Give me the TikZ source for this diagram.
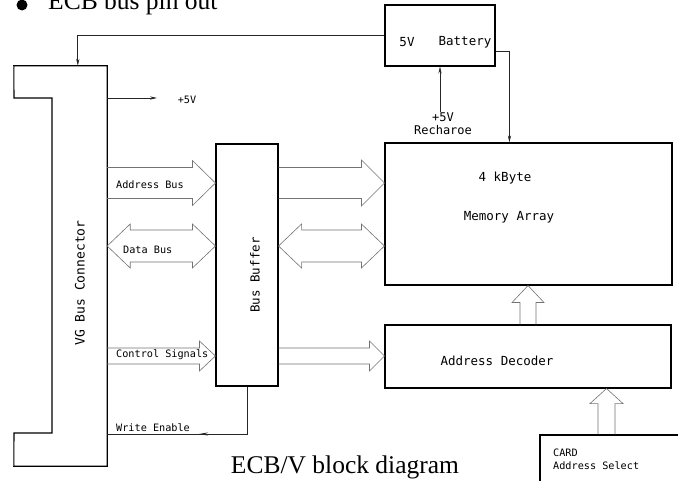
\documentclass[tikz,border=0pt]{standalone}
\usepackage{fontspec}
\setmainfont{Liberation Serif}
\newfontfamily\mono{DejaVu Sans Mono}
\usetikzlibrary{calc,arrows.meta}
\newcommand{\blkR}[5]{\draw[blk] ($(#1)+(0,-#3)$) -- ($(#2)+(-#5,-#3)$) -- ($(#2)+(-#5,-#4)$) -- (#2) -- ($(#2)+(-#5,#4)$) -- ($(#2)+(-#5,#3)$) -- ($(#1)+(0,#3)$);}
\newcommand{\blkLR}[5]{\draw[blk] (#1) -- ($(#1)+(#5,-#4)$) -- ($(#1)+(#5,-#3)$) -- ($(#2)+(-#5,-#3)$) -- ($(#2)+(-#5,-#4)$) -- (#2) -- ($(#2)+(-#5,#4)$) -- ($(#2)+(-#5,#3)$) -- ($(#1)+(#5,#3)$) -- ($(#1)+(#5,#4)$) -- cycle;}
\newcommand{\blkU}[5]{\draw[blk] ($(#1)+(-#3,0)$) -- ($(#2)+(-#3,#5)$) -- ($(#2)+(-#4,#5)$) -- (#2) -- ($(#2)+(#4,#5)$) -- ($(#2)+(#3,#5)$) -- ($(#1)+(#3,0)$);}
\begin{document}
\begin{tikzpicture}[x=1pt,y=-1pt,
  box/.style={draw=black, line width=1.1pt, inner sep=0pt},
  blk/.style={draw=black!55, line width=0.6pt},
  ln/.style={draw=black!85, line width=0.7pt},
  tip/.style={-{Stealth[length=7pt,width=3.2pt]}},
  lbl/.style={font=\mono\fontsize{10.2}{12}\selectfont, inner sep=0pt},
  big/.style={font=\mono\fontsize{12.5}{14}\selectfont, inner sep=0pt}]
\clip (0,0) rectangle (678,481);
\fill[white] (0,0) rectangle (678,481);

% heading (cut off at top)
\fill[black] (22,5) circle (5.5pt);
\node[anchor=base west, inner sep=0pt, font=\fontsize{25.5}{28}\selectfont] (head) at (48,10) {ECB bus pin out};

% nodes
\node[minimum width=93pt, minimum height=400pt, inner sep=0pt] (vg) at (60.5,266) {};
\node[box, minimum width=62pt, minimum height=242pt] (buf) at (247,265) {};
\node[box, minimum width=287pt, minimum height=142pt] (mem) at (528.5,214) {};
\node[box, minimum width=286pt, minimum height=63pt] (dec) at (528,356.5) {};
\node[box, minimum width=110pt, minimum height=61pt] (bat) at (440,35.5) {};
\node[box, minimum width=150pt, minimum height=65pt] (card) at (615,467.5) {};

% VG bus connector outline
\draw[line width=1.1pt] (vg.north west) -- (vg.north east) -- (vg.south east) -- (vg.south west) -- (14,433) -- (52,433) -- (52,98) -- (14,98) -- cycle;
\node[big, rotate=90, font=\mono\fontsize{13}{15}\selectfont] (vgl) at (80,283) {VG Bus Connector};
\node[big, rotate=90] (bufl) at (255,275) {Bus Buffer};

% texts in boxes
\node[big] (kb) at (505,178) {4 kByte};
\node[big] (ma) at (509,217) {Memory Array};
\node[big] (ad) at (497,361) {Address Decoder};
\node[big] (v5) at (407,42) {5V};
\node[big] (bt) at (465,42) {Battery};
\node[lbl, anchor=west] (c1) at (553,453) {CARD};
\node[lbl, anchor=west] (c2) at (553,466) {Address Select};

% battery connections
\coordinate (topin) at ($(vg.north west)+(64,0)$);
\draw[ln, tip] (bat.west) -| (topin);
\coordinate (bo) at ($(bat.east)+(0,15.5)$);
\coordinate (mi) at ($(mem.north west)+(125,0)$);
\draw[ln, tip] (bo) -| (mi);
\node[big, align=center, font=\mono\fontsize{12}{13}\selectfont] (rch) at (443,123.5) {+5V\\Recharoe};
\draw[ln, tip] (rch.north -| bat.south) -- (bat.south);

% +5V out of connector
\coordinate (p5a) at (107,98);
\coordinate (p5b) at (157,98);
\draw[ln, tip] (p5a) -- (p5b);
\node[lbl] (p5) at (187,100) {+5V};

% block arrows left side
\coordinate (yA) at (0,183);
\coordinate (yD) at (0,246);
\coordinate (yC) at (0,356);
\coordinate (aL) at (vg.east |- yA);
\coordinate (aB) at (buf.west |- yA);
\coordinate (aB2) at (buf.east |- yA);
\coordinate (aM) at (mem.west |- yA);
\coordinate (dL) at (vg.east |- yD);
\coordinate (dB) at (buf.west |- yD);
\coordinate (dB2) at (buf.east |- yD);
\coordinate (dM) at (mem.west |- yD);
\coordinate (cL) at (vg.east |- yC);
\coordinate (cB) at (buf.west |- yC);
\coordinate (cB2) at (buf.east |- yC);
\coordinate (cD) at (dec.west |- yC);
\blkR{aL}{aB}{15.5}{22.5}{23}
\blkR{aB2}{aM}{15.5}{23}{23}
\blkLR{dL}{dB}{16}{22}{23}
\blkLR{dB2}{dM}{16}{22}{23}
\blkR{cL}{cB}{8}{15}{16}
\blkR{cB2}{cD}{8}{15}{15}
\coordinate (vx) at (528,0);
\coordinate (vb) at (dec.north -| vx);
\coordinate (vt) at (mem.south -| vx);
\blkU{vb}{vt}{8}{16}{17}
\coordinate (sx) at (606.5,0);
\coordinate (sb) at (card.north -| sx);
\coordinate (st) at (dec.south -| sx);
\blkU{sb}{st}{8.5}{16.5}{15}

\node[lbl, anchor=west] (abl) at (116,185) {Address Bus};
\node[lbl, anchor=west] (dbl) at (123,250) {Data Bus};
\node[lbl, anchor=west] (csl) at (116,355) {Control Signals};

% write enable
\coordinate (wy) at (0,434);
\coordinate (wc) at (buf.south |- wy);
\coordinate (we) at (vg.east |- wy);
\coordinate (wm) at (199,434);
\coordinate (wm0) at (214,434);
\draw[ln] (buf.south) -- (wc) -- (we);
\draw[ln, -{Stealth[length=9pt,width=3pt]}] (wm0) -- (wm);
\node[lbl, anchor=west] (wel) at (116,428) {Write Enable};

% caption
\node[anchor=base, inner sep=0pt, font=\fontsize{25.5}{28}\selectfont] (cap) at (345,473) {ECB/V block diagram};
\end{tikzpicture}
\end{document}
